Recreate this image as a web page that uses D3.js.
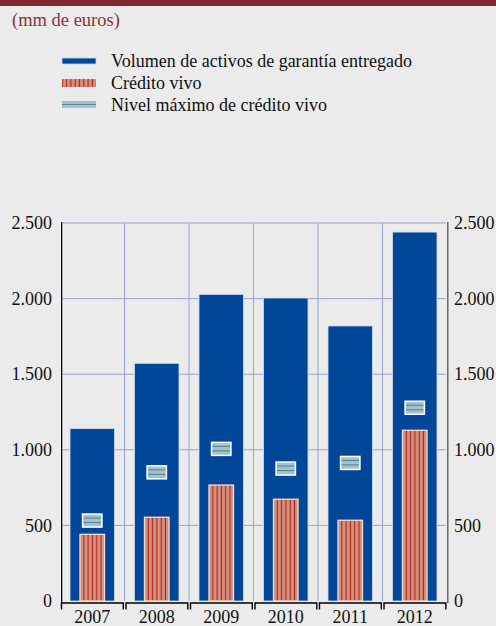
<!DOCTYPE html>
<html>
<head>
<meta charset="utf-8">
<script src="https://cdn.jsdelivr.net/npm/d3@7"></script>
<style>
  html, body { margin: 0; padding: 0; background: #ebebeb; }
  svg { display: block; }
  text { font-family: "Liberation Serif", "Times New Roman", serif; }
</style>
</head>
<body>
<svg id="chart" width="496" height="626"></svg>
<script>
const years = ["2007", "2008", "2009", "2010", "2011", "2012"];
const volumen = [1140, 1572, 2028, 2004, 1819, 2440];
const credito = [441, 554, 767, 673, 534, 1129];
const maximo = [532, 851, 1006, 876, 913, 1278];
const yTicks = [0, 500, 1000, 1500, 2000, 2500];
const unitLabel = "(mm de euros)";
const legendLabels = ["Volumen de activos de garantía entregado", "Crédito vivo", "Nivel máximo de crédito vivo"];

const svg = d3.select("#chart");
const W = 496, H = 626;
const FONT = "Liberation Serif, Times New Roman, serif";
const colBlue = "#00479a", colSalmon = "#d4917f", colStripe = "#b2291d",
      colGrayFill = "#a8c0cc", colGrayLine = "#4b8a98", colGrid = "#95a5d8";

svg.append("rect").attr("width", W).attr("height", H).attr("fill", "#ebebeb");
svg.append("rect").attr("width", W).attr("height", 6).attr("fill", "#7d2a2f");

const defs = svg.append("defs");
const pat = defs.append("pattern").attr("id", "stripes")
  .attr("patternUnits", "userSpaceOnUse").attr("width", 4.3).attr("height", 10);
pat.append("rect").attr("width", 4.3).attr("height", 10).attr("fill", colSalmon);
pat.append("rect").attr("x", 1.5).attr("width", 1.2).attr("height", 10).attr("fill", colStripe);

svg.append("text").attr("x", 12).attr("y", 26).attr("font-size", 18.5)
  .attr("font-family", FONT).attr("fill", "#8a3338").text(unitLabel);

// Legend
const lg = svg.append("g");
const legY = [62, 84, 106];
lg.append("rect").attr("x", 62).attr("y", legY[0] - 4).attr("width", 34).attr("height", 6)
  .attr("fill", colBlue).attr("stroke", "#c9d6ea").attr("stroke-width", 0.8);
lg.append("rect").attr("x", 62).attr("y", legY[1] - 5).attr("width", 34).attr("height", 8)
  .attr("fill", "url(#stripes)");
lg.append("rect").attr("x", 62).attr("y", legY[2] - 5).attr("width", 34).attr("height", 7)
  .attr("fill", colGrayFill);
lg.append("line").attr("x1", 62).attr("x2", 96).attr("y1", legY[2] - 1.5).attr("y2", legY[2] - 1.5)
  .attr("stroke", colGrayLine).attr("stroke-width", 1.2);
legendLabels.forEach((t, i) => {
  lg.append("text").attr("x", 111).attr("y", legY[i] + 4.5).attr("font-size", 18)
    .attr("font-family", FONT).attr("fill", "#111").text(t);
});

// Scales
const x = d3.scaleBand().domain(years).range([60, 447]).padding(0);
const y = d3.scaleLinear().domain([0, 2500]).range([601, 223]);
const bw = x.bandwidth();

// Grid
const grid = svg.append("g");
yTicks.filter(v => v > 0).forEach(v => {
  grid.append("line").attr("x1", 62).attr("x2", 446).attr("y1", y(v)).attr("y2", y(v))
    .attr("stroke", colGrid).attr("stroke-width", 1);
});
years.slice(1).forEach(yr => {
  const xx = x(yr);
  grid.append("line").attr("x1", xx).attr("x2", xx).attr("y1", 223).attr("y2", 601)
    .attr("stroke", colGrid).attr("stroke-width", 1);
});

// Bars
const bars = svg.append("g");
bars.selectAll(".vol").data(years).join("rect").attr("class", "vol")
  .attr("x", d => x(d) + bw * 0.5 - bw * 0.345)
  .attr("width", bw * 0.69)
  .attr("y", (d, i) => y(volumen[i]))
  .attr("height", (d, i) => y(0) - y(volumen[i]))
  .attr("fill", colBlue).attr("stroke", "#d4deee").attr("stroke-width", 0.8);

bars.selectAll(".cred").data(years).join("rect").attr("class", "cred")
  .attr("x", d => x(d) + bw * 0.5 - bw * 0.19)
  .attr("width", bw * 0.38)
  .attr("y", (d, i) => y(credito[i]))
  .attr("height", (d, i) => y(0) - y(credito[i]))
  .attr("fill", "url(#stripes)").attr("stroke", "#f3ddd4").attr("stroke-width", 1.3);

const mw = bw * 0.3, mh = 13;
const mk = bars.selectAll(".max").data(years).join("g").attr("class", "max")
  .attr("transform", (d, i) => `translate(${x(d) + bw * 0.5 - mw / 2},${y(maximo[i]) - mh / 2})`);
mk.append("rect").attr("width", mw).attr("height", mh)
  .attr("fill", colGrayFill).attr("stroke", "#ffffff").attr("stroke-width", 1.5);
[4, 8.5].forEach(off => {
  mk.append("line").attr("x1", 1).attr("x2", mw - 1).attr("y1", off).attr("y2", off)
    .attr("stroke", colGrayLine).attr("stroke-width", 1.1);
});

// Axes
const fmt = d3.formatLocale({ decimal: ",", thousands: ".", grouping: [3], currency: ["", "€"] }).format(",");
const leftAxis = svg.append("g").attr("transform", "translate(52,0)")
  .call(d3.axisLeft(y).tickValues(yTicks).tickFormat(fmt).tickSize(0).tickPadding(0));
leftAxis.attr("font-family", FONT).attr("font-size", 18);
leftAxis.select(".domain").remove();
leftAxis.selectAll("text").attr("fill", "#111");

const rightAxis = svg.append("g").attr("transform", "translate(454,0)")
  .call(d3.axisRight(y).tickValues(yTicks).tickFormat(fmt).tickSize(0).tickPadding(0));
rightAxis.attr("font-family", FONT).attr("font-size", 18);
rightAxis.select(".domain").remove();
rightAxis.selectAll("text").attr("fill", "#111");

svg.append("line").attr("x1", 60.4).attr("x2", 60.4).attr("y1", 222).attr("y2", 603)
  .attr("stroke", "#ffffff").attr("stroke-width", 1);
svg.append("line").attr("x1", 61.6).attr("x2", 61.6).attr("y1", 222).attr("y2", 603)
  .attr("stroke", "#000").attr("stroke-width", 1.3);
svg.append("line").attr("x1", 447.8).attr("x2", 447.8).attr("y1", 222).attr("y2", 603)
  .attr("stroke", "#555").attr("stroke-width", 1.3);

// X axis brackets
const xa = svg.append("g");
years.forEach(yr => {
  const x0 = x(yr) + 1.5, x1 = x(yr) + bw - 1.2;
  xa.append("path").attr("d", `M${x0},609.5V603H${x1}V609.5`)
    .attr("fill", "none").attr("stroke", "#000").attr("stroke-width", 1.4);
  xa.append("text").attr("x", x(yr) + bw / 2).attr("y", 623).attr("text-anchor", "middle")
    .attr("font-family", FONT).attr("font-size", 18).attr("fill", "#111").text(yr);
});
</script>
</body>
</html>
